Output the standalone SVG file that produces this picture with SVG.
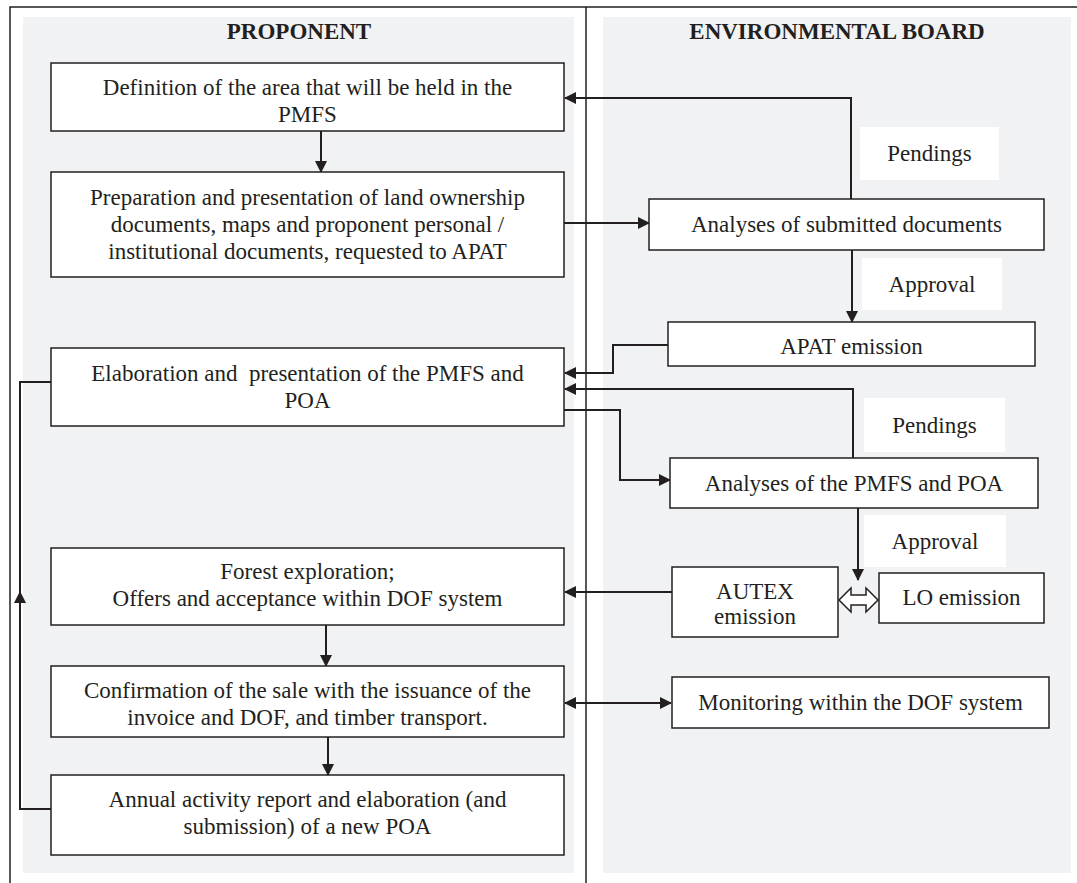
<svg xmlns="http://www.w3.org/2000/svg" width="1077" height="883" viewBox="0 0 1077 883">
<style>
.box{fill:#fff;stroke:#231f20;stroke-width:1.5}
.lbl{fill:#fff}
.t{font-family:"Liberation Serif","Times New Roman",serif;font-size:23px;fill:#231f20;text-anchor:middle}
.h{font-family:"Liberation Serif","Times New Roman",serif;font-size:23px;font-weight:bold;fill:#231f20;text-anchor:middle}
.c{fill:none;stroke:#231f20;stroke-width:2}
.frame{fill:none;stroke:#231f20;stroke-width:1.5}
</style>
<defs>
<marker id="ah" viewBox="0 0 12 12" refX="11" refY="6" markerWidth="12" markerHeight="12" markerUnits="userSpaceOnUse" orient="auto-start-reverse">
<path d="M0,0 L12,6 L0,12 Z" fill="#231f20"/>
</marker>
</defs>
<rect x="0" y="0" width="1077" height="883" fill="#fff"/>
<g id="panels">
<rect x="23" y="17" width="551" height="856" fill="#f1f2f4"/>
<rect x="603" y="17" width="468" height="856" fill="#f1f2f4"/>
<path class="frame" d="M10,883 V7 H1077 M586,7 V883"/>
<text class="h" x="299" y="39">PROPONENT</text>
<text class="h" x="837" y="39">ENVIRONMENTAL BOARD</text>
</g>
<g id="labels">
<rect class="lbl" x="860" y="127" width="139" height="53"/>
<text class="t" x="929.5" y="161">Pendings</text>
<rect class="lbl" x="862" y="258" width="140" height="52"/>
<text class="t" x="932" y="292">Approval</text>
<rect class="lbl" x="864" y="398" width="141" height="54"/>
<text class="t" x="934.5" y="433">Pendings</text>
<rect class="lbl" x="864" y="515" width="142" height="52"/>
<text class="t" x="935" y="549">Approval</text>
</g>
<g id="connectors">
<path class="c" d="M321,131 V172" marker-end="url(#ah)"/>
<path class="c" d="M564,223 H649" marker-end="url(#ah)"/>
<path class="c" d="M851,199 V98 H565" marker-end="url(#ah)"/>
<path class="c" d="M852,250 V322" marker-end="url(#ah)"/>
<path class="c" d="M668,345 H613 V373 H565" marker-end="url(#ah)"/>
<path class="c" d="M853,458 V389 H565" marker-end="url(#ah)"/>
<path class="c" d="M564,410 H620 V480 H670" marker-end="url(#ah)"/>
<path class="c" d="M858,508 V580" marker-end="url(#ah)"/>
<path class="c" d="M672,592 H565" marker-end="url(#ah)"/>
<path class="c" d="M326,625 V666" marker-end="url(#ah)"/>
<path class="c" d="M565,703 H671" marker-start="url(#ah)" marker-end="url(#ah)"/>
<path class="c" d="M328,737 V775" marker-end="url(#ah)"/>
<path class="c" d="M51,809 H20 V592" marker-end="url(#ah)"/>
<path class="c" d="M20,594 V382 H51"/>
<path d="M839,600 L851,588 V595 H866 V588 L878,600 L866,612 V605 H851 V612 Z" fill="#fff" stroke="#231f20" stroke-width="1.5"/>
</g>
<g id="n1">
<rect class="box" x="51" y="63" width="513" height="68"/>
<text class="t" x="307.5" y="95">Definition of the area that will be held in the</text>
<text class="t" x="307.5" y="122">PMFS</text>
</g>
<g id="n2">
<rect class="box" x="51" y="172" width="513" height="105"/>
<text class="t" x="307.5" y="205">Preparation and presentation of land ownership</text>
<text class="t" x="307.5" y="232">documents, maps and proponent personal /</text>
<text class="t" x="307.5" y="259">institutional documents, requested to APAT</text>
</g>
<g id="n3">
<rect class="box" x="51" y="348" width="513" height="78"/>
<text class="t" x="307.5" y="381" style="white-space:pre">Elaboration and  presentation of the PMFS and</text>
<text class="t" x="307.5" y="408">POA</text>
</g>
<g id="n4">
<rect class="box" x="51" y="548" width="513" height="77"/>
<text class="t" x="307.5" y="579">Forest exploration;</text>
<text class="t" x="307.5" y="606">Offers and acceptance within DOF system</text>
</g>
<g id="n5">
<rect class="box" x="51" y="666" width="513" height="71"/>
<text class="t" x="307.5" y="698">Confirmation of the sale with the issuance of the</text>
<text class="t" x="307.5" y="725">invoice and DOF, and timber transport.</text>
</g>
<g id="n6">
<rect class="box" x="51" y="775" width="513" height="80"/>
<text class="t" x="307.5" y="807">Annual activity report and elaboration (and</text>
<text class="t" x="307.5" y="834">submission) of a new POA</text>
</g>
<g id="n7">
<rect class="box" x="649" y="199" width="395" height="51"/>
<text class="t" x="846.5" y="232">Analyses of submitted documents</text>
</g>
<g id="n8">
<rect class="box" x="668" y="322" width="367" height="44"/>
<text class="t" x="851.5" y="354">APAT emission</text>
</g>
<g id="n9">
<rect class="box" x="670" y="458" width="368" height="50"/>
<text class="t" x="854" y="491">Analyses of the PMFS and POA</text>
</g>
<g id="n10">
<rect class="box" x="672" y="567" width="166" height="70"/>
<text class="t" x="755" y="599">AUTEX</text>
<text class="t" x="755" y="624">emission</text>
</g>
<g id="n11">
<rect class="box" x="879" y="573" width="165" height="50"/>
<text class="t" x="961.5" y="605">LO emission</text>
</g>
<g id="n12">
<rect class="box" x="672" y="677" width="377" height="51"/>
<text class="t" x="860.5" y="710">Monitoring within the DOF system</text>
</g>
</svg>
